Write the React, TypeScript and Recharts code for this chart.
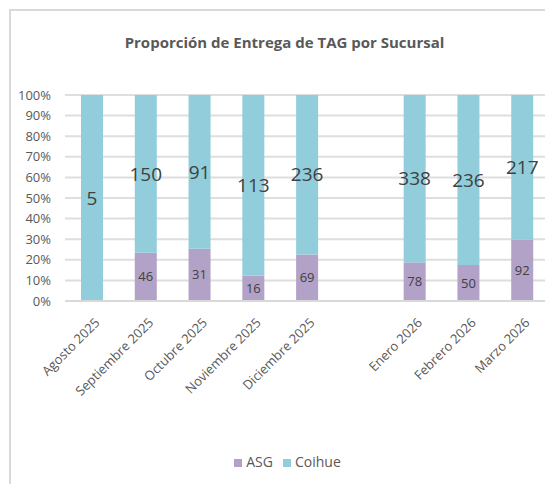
import React from "react";
import { BarChart, Bar, XAxis, YAxis, CartesianGrid, Legend, LabelList } from "recharts";

// Months (blank entry keeps the gap between 2025 and 2026)
const months = [
  "Agosto 2025",
  "Septiembre 2025",
  "Octubre 2025",
  "Noviembre 2025",
  "Diciembre 2025",
  "",
  "Enero 2026",
  "Febrero 2026",
  "Marzo 2026",
];
const asg = [0, 46, 31, 16, 69, null, 78, 50, 92];
const coihue = [5, 150, 91, 113, 236, null, 338, 236, 217];
const pctTicks = [0, 0.1, 0.2, 0.3, 0.4, 0.5, 0.6, 0.7, 0.8, 0.9, 1];

const data = months.map((m, i) => ({ month: m, asg: asg[i], coihue: coihue[i] }));

const FONT = "'Open Sans', 'Liberation Sans', sans-serif";
const AXIS_COLOR = "#595959";
const ASG_COLOR = "#B3A2C7";
const COIHUE_COLOR = "#92CDDC";

const hideEmpty = (v: any) => (v ? v : "");

const MonthTick = (props: any) => {
  const { x, y, payload } = props;
  return (
    <text
      x={x + 2}
      y={y + 8}
      textAnchor="end"
      fontSize={13}
      fill={AXIS_COLOR}
      fontFamily={FONT}
      transform={`rotate(-45, ${x + 2}, ${y + 8})`}
      dy="0.71em"
    >
      {payload.value}
    </text>
  );
};

export default function App() {
  return (
    <div style={{ position: "relative", width: 553, height: 492, margin: -8, background: "#fff", overflow: "hidden" }}>
      {/* chart frame */}
      <div
        style={{
          position: "absolute",
          left: 9,
          top: 9,
          width: 580,
          height: 520,
          border: "2px solid #d9d9d9",
        }}
      />
      <div
        style={{
          position: "absolute",
          top: 32,
          width: 553,
          left: 8,
          textAlign: "center",
          fontFamily: FONT,
          fontWeight: 700,
          fontSize: 15,
          color: AXIS_COLOR,
        }}
      >
        Proporción de Entrega de TAG por Sucursal
      </div>
      <div style={{ position: "absolute", left: 0, top: 0 }}>
        <BarChart
          width={553}
          height={492}
          data={data}
          stackOffset="expand"
          margin={{ top: 95, right: 4, bottom: 0, left: 0 }}
        >
          <CartesianGrid vertical={false} stroke="#dedede" strokeWidth={2} />
          <YAxis
            width={65}
            domain={[0, 1]}
            ticks={pctTicks}
            tickFormatter={(v: number) => `${Math.round(v * 100)}%`}
            axisLine={false}
            tickLine={false}
            tickMargin={8}
            tick={{ fontSize: 13, fill: AXIS_COLOR, fontFamily: FONT }}
            interval={0}
          />
          <XAxis
            dataKey="month"
            height={172}
            interval={0}
            axisLine={{ stroke: "#d9d9d9", strokeWidth: 2 }}
            tickLine={false}
            tick={<MonthTick />}
          />
          <Legend
            verticalAlign="bottom"
            iconType="square"
            iconSize={8}
            wrapperStyle={{ top: 452, left: 18, fontFamily: FONT, fontSize: 14, color: AXIS_COLOR }}
            formatter={(value: string) => <span style={{ color: AXIS_COLOR }}>{value}</span>}
          />
          <Bar dataKey="asg" name="ASG" stackId="a" fill={ASG_COLOR} barSize={22} isAnimationActive={false}>
            <LabelList
              dataKey="asg"
              position="center"
              formatter={hideEmpty}
              fill="#404040"
              fontSize={13}
              fontFamily={FONT}
            />
          </Bar>
          <Bar dataKey="coihue" name="Coihue" stackId="a" fill={COIHUE_COLOR} barSize={22} isAnimationActive={false}>
            <LabelList
              dataKey="coihue"
              position="center"
              formatter={hideEmpty}
              fill="#404040"
              fontSize={19}
              fontFamily={FONT}
            />
          </Bar>
        </BarChart>
      </div>
    </div>
  );
}
